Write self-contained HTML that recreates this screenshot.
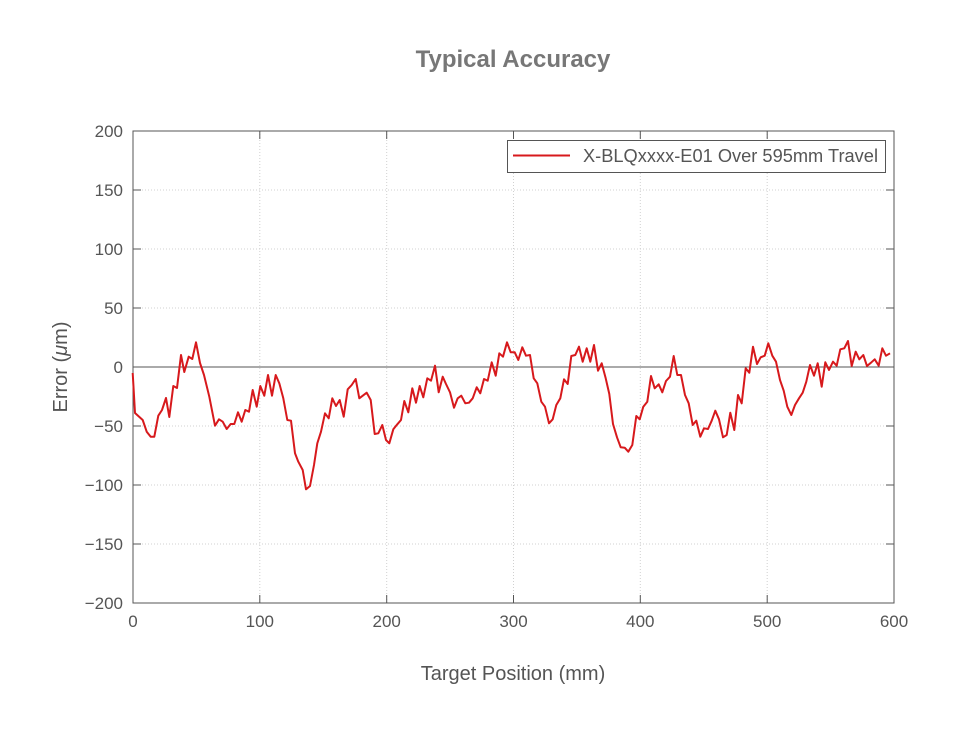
<!DOCTYPE html>
<html><head><meta charset="utf-8"><style>
html,body{margin:0;padding:0;background:#fff;}
svg{display:block;font-family:"Liberation Sans",Arial,sans-serif;}
</style></head><body>
<svg width="958" height="732" viewBox="0 0 958 732">
<rect width="958" height="732" fill="#fff"/>
<text x="513" y="67" text-anchor="middle" font-size="24" font-weight="bold" fill="#777">Typical Accuracy</text>
<g stroke="#d0d0d0" stroke-width="1" stroke-dasharray="1,2">
<line x1="259.8" y1="131" x2="259.8" y2="603"/><line x1="386.7" y1="131" x2="386.7" y2="603"/><line x1="513.5" y1="131" x2="513.5" y2="603"/><line x1="640.3" y1="131" x2="640.3" y2="603"/><line x1="767.2" y1="131" x2="767.2" y2="603"/>
<line x1="133" y1="190" x2="894" y2="190"/><line x1="133" y1="249" x2="894" y2="249"/><line x1="133" y1="308" x2="894" y2="308"/><line x1="133" y1="426" x2="894" y2="426"/><line x1="133" y1="485" x2="894" y2="485"/><line x1="133" y1="544" x2="894" y2="544"/>
</g>
<line x1="133" y1="367" x2="894" y2="367" stroke="#555" stroke-width="1"/>
<rect x="133" y="131" width="761" height="472" fill="none" stroke="#555" stroke-width="1"/>
<g stroke="#555" stroke-width="1">
<line x1="259.8" y1="603" x2="259.8" y2="595"/><line x1="386.7" y1="603" x2="386.7" y2="595"/><line x1="513.5" y1="603" x2="513.5" y2="595"/><line x1="640.3" y1="603" x2="640.3" y2="595"/><line x1="767.2" y1="603" x2="767.2" y2="595"/>
<line x1="259.8" y1="131" x2="259.8" y2="139"/><line x1="386.7" y1="131" x2="386.7" y2="139"/><line x1="513.5" y1="131" x2="513.5" y2="139"/><line x1="640.3" y1="131" x2="640.3" y2="139"/><line x1="767.2" y1="131" x2="767.2" y2="139"/>
<line x1="133" y1="190" x2="141" y2="190"/><line x1="133" y1="249" x2="141" y2="249"/><line x1="133" y1="308" x2="141" y2="308"/><line x1="133" y1="426" x2="141" y2="426"/><line x1="133" y1="485" x2="141" y2="485"/><line x1="133" y1="544" x2="141" y2="544"/>
<line x1="894" y1="190" x2="886" y2="190"/><line x1="894" y1="249" x2="886" y2="249"/><line x1="894" y1="308" x2="886" y2="308"/><line x1="894" y1="426" x2="886" y2="426"/><line x1="894" y1="485" x2="886" y2="485"/><line x1="894" y1="544" x2="886" y2="544"/>
</g>
<g font-size="17" fill="#555" text-anchor="end">
<text x="123" y="137">200</text><text x="123" y="196">150</text><text x="123" y="255">100</text><text x="123" y="314">50</text><text x="123" y="373">0</text><text x="123" y="432">−50</text><text x="123" y="491">−100</text><text x="123" y="550">−150</text><text x="123" y="609">−200</text>
</g>
<g font-size="17" fill="#555" text-anchor="middle">
<text x="133" y="627">0</text><text x="259.8" y="627">100</text><text x="386.7" y="627">200</text><text x="513.5" y="627">300</text><text x="640.3" y="627">400</text><text x="767.2" y="627">500</text><text x="894" y="627">600</text>
</g>
<text x="513" y="680" text-anchor="middle" font-size="20" fill="#555">Target Position (mm)</text>
<text transform="translate(67,367) rotate(-90)" text-anchor="middle" font-size="20" fill="#555">Error (<tspan font-style="italic">μ</tspan>m)</text>
<polyline fill="none" stroke="#d7191c" stroke-width="2" stroke-linejoin="round" points="
132.7,373 135,413 142.7,420 146.7,431.7 150.7,436.7 154.3,436.7 158.3,415.7 162,410 166,398 169.3,417 173.3,386 177,388 181,355 184.3,372 188.7,356.7 192.3,359 196,342.3 200,363 204,375 209.3,396.7 215,425.7 219,419.3 222.7,421.7 226.7,429 230.7,424 234.3,424 238,412.3 241.7,421.7 245.3,410 249,411.7 252.7,390 256.7,406.7 260.3,386 264.3,395.7 268,375 272,395.7 275.7,375 279.3,383.3 283.3,398.3 287.3,420 291,420.7 295,453.3 298.3,461.7 302.7,470 306,489.3 310,486 314,465 317.3,443.3 321,431.7 325,413.3 328.7,418.3 332.3,398.3 336,406 339.7,400 343.7,416.7 347.7,389.3 351.7,385 355.7,379 359.3,398.3 366.7,392.7 370.7,400 374.7,434 378.3,433.3 382.3,425 386,440 389.3,443.3 393.3,429.3 397.3,424.3 401,420 404.3,401 408.3,412.3 412.3,388.3 416,402.7 419.7,386 423.3,397.3 427.3,378.3 431,380.7 435,365.7 438.7,392.3 442.7,376.7 446,384 450,392.3 454,407.7 457.7,398.3 461.3,395.7 465.3,403.3 469,402.7 472.7,398.3 476.7,387.3 480.3,393.3 484,379 487.7,380.7 491.7,362.3 495.7,375.7 499.3,353.3 503,356.7 507,342.3 510.7,352.3 514.7,352.3 518.3,360 522.3,347.3 526,355.7 530,355 533.7,378.3 537.3,383.3 541.3,401.7 545,406.7 549,423.3 552.7,419.3 556.3,405 560.3,398.3 564,379.3 567.7,384 571.3,356 575.3,355 579,346.7 582.7,361.7 586.7,348.3 590.3,361.7 594,345 598,370.7 601.7,363.3 605.7,378.3 609.3,394 613,424 617,437.3 620.7,447.3 624.7,447.7 628.3,451.7 632.3,445 636.3,416 639.7,419.3 643.3,406.7 647.3,401.7 651,376 654.7,388.3 658.7,384.3 662.3,392.3 666,381 670,376.7 673.7,356 677.3,375 681,375 685,395 688.7,403.3 692.7,425 696.3,420.7 700.3,436.7 704,428.3 708,429 711.7,420.7 715.3,410.7 719,419.3 723,437.3 726.7,435 730.3,412.7 734.3,430 738,395 741.7,403.3 745.7,368.3 749.3,372.7 753,346.7 757,364 760.7,357.3 764.7,355.7 768.3,343.3 772.3,355.7 776,361.7 780,380 783.7,390.7 787.3,406.7 791.3,415 795,405 799,398.3 802.7,392.7 806.3,381.7 810,365 814,375.7 817.7,363.3 821.7,386.7 825.3,362.3 829,370 833,361.7 836.7,365.7 840.3,349.3 844.3,348.3 848,341 851.7,366 855.7,351.7 859.3,359.3 863.3,355 867,366 871,362.7 874.7,359.3 878.7,365.7 882.3,348.3 886,355.7 890,353.3"/>
<rect x="507.5" y="140.5" width="378" height="32" fill="#fff" stroke="#555" stroke-width="1"/>
<line x1="513" y1="155.5" x2="570" y2="155.5" stroke="#d7191c" stroke-width="2"/>
<text x="583" y="162" font-size="18" fill="#555" textLength="295" lengthAdjust="spacingAndGlyphs">X-BLQxxxx-E01 Over 595mm Travel</text>
</svg>
</body></html>
